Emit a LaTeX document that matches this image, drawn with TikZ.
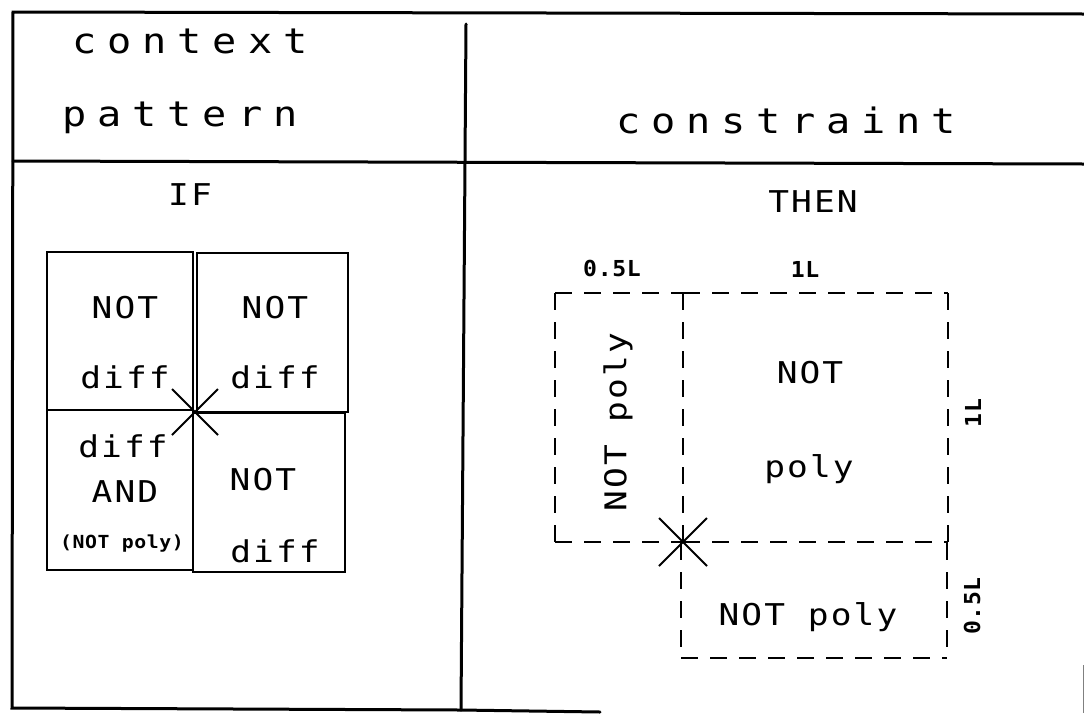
\documentclass[tikz,border=0pt]{standalone}
\usepackage{fontspec}
\usetikzlibrary{calc}
\newfontfamily\hdrf[FakeStretch=1.15,LetterSpace=31]{DejaVu Sans Mono}
\newfontfamily\pnlf[FakeStretch=1.15,LetterSpace=7]{DejaVu Sans Mono}
\newfontfamily\smlf[FakeStretch=1.1,LetterSpace=3]{DejaVu Sans Mono Bold}
\newfontfamily\lblf[FakeStretch=1.05,LetterSpace=3]{DejaVu Sans Mono Bold}
\begin{document}
\begin{tikzpicture}[x=1pt,y=-1pt,
  frame/.style={line width=3pt,line cap=round},
  cell/.style={line width=2.6pt},
  dsh/.style={line width=2.6pt,dash pattern=on 17pt off 12pt},
  cross/.style={line width=2pt},
  hdr/.style={inner sep=0pt,anchor=base,font=\hdrf\fontsize{35pt}{35pt}\selectfont},
  pnl/.style={inner sep=0pt,anchor=base,font=\pnlf\fontsize{30pt}{30pt}\selectfont},
  sml/.style={inner sep=0pt,anchor=base,font=\smlf\fontsize{18pt}{18pt}\selectfont},
  lbl/.style={inner sep=0pt,anchor=base,font=\lblf\fontsize{22pt}{22pt}\selectfont}]
\useasboundingbox (0,0) rectangle (1084,713);
% frame
\draw[frame] (1084,14) -- (13,12) -- (12,708) -- (460,710) -- (600,712);
\draw[frame] (466,24) -- (461,710);
\draw[frame] (13,161) -- (1084,164);
\draw[line width=1pt,gray] (1083,665) -- (1083,713);
% headers
\node[hdr] (ctx) at (190,53) {context};
\node[hdr] (pat) at (180,126) {pattern};
\node[hdr] (con) at (786,133) {constraint};
\node[pnl] (if) at (190,205) {IF};
\node[pnl] (then) at (813,212) {THEN};
% left cells
\draw[cell] (47,252) rectangle (193,410);
\draw[cell] (197,253) rectangle (348,412);
\draw[cell] (47,410) rectangle (193,570);
\draw[cell] (193,413) rectangle (345,572);
\coordinate (xl) at (195,412);
\draw[cross] ($(xl)+(-23,-23)$) -- ($(xl)+(23,23)$);
\draw[cross] ($(xl)+(-23,23)$) -- ($(xl)+(23,-23)$);
\node[pnl] (tln) at (125,318) {NOT};
\node[pnl] (tld) at (125,388) {diff};
\node[pnl] (trn) at (275,318) {NOT};
\node[pnl] (trd) at (275,388) {diff};
\node[pnl] (bld) at (123,457) {diff};
\node[pnl] (bla) at (125,502) {AND};
\node[sml] (blp) at (122,548) {(NOT poly)};
\node[pnl] (brn) at (263,490) {NOT};
\node[pnl] (brd) at (275,562) {diff};
% right dashed
\draw[dsh] (555,293) -- (683,293);
\draw[dsh] (683,293) -- (948,293);
\draw[dsh] (555,293) -- (555,542);
\draw[dsh] (683,293) -- (683,542);
\draw[dsh] (948,293) -- (948,542);
\draw[dsh] (555,542) -- (683,542);
\draw[dsh] (683,542) -- (948,542);
\draw[dsh] (681,543) -- (681,658);
\draw[dsh] (947,543) -- (947,658);
\draw[dsh] (681,658) -- (947,658);
\coordinate (xr) at (683,542);
\draw[cross] ($(xr)+(-24,-24)$) -- ($(xr)+(24,24)$);
\draw[cross] ($(xr)+(-24,24)$) -- ($(xr)+(24,-24)$);
\node[lbl] (l05) at (612,276) {0.5L};
\node[lbl] (l1) at (805,277) {1L};
\node[lbl,rotate=90,anchor=center] (r1) at (973,413) {1L};
\node[lbl,rotate=90,anchor=center] (r05) at (972,606) {0.5L};
\node[pnl,rotate=90,anchor=center] (snp) at (618,422) {NOT poly};
\node[pnl] (bsn) at (810,383) {NOT};
\node[pnl] (bsp) at (809,477) {poly};
\node[pnl] (bnp) at (808,625) {NOT poly};
\end{tikzpicture}
\end{document}
